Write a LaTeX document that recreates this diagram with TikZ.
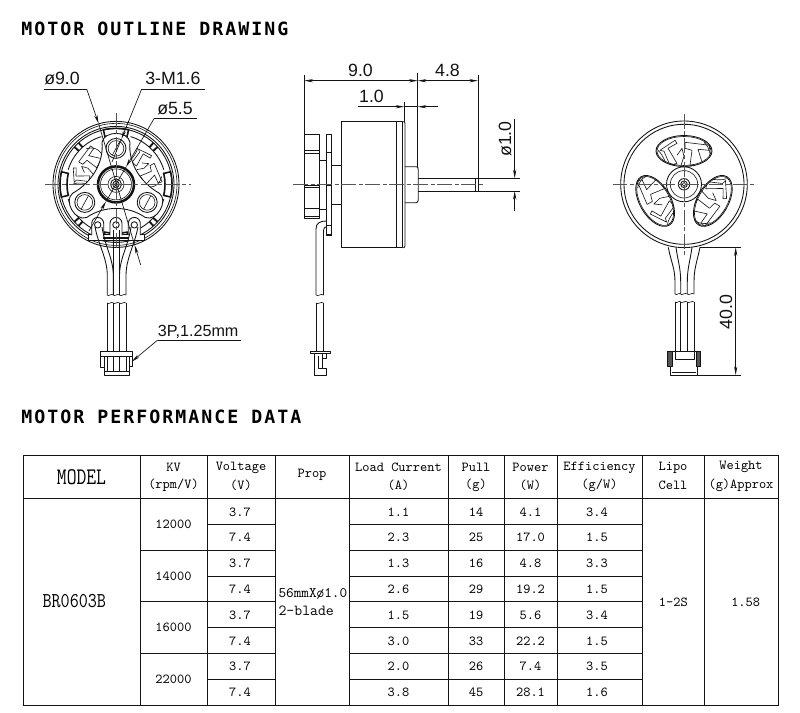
\documentclass[tikz,border=0pt]{standalone}
\usepackage{fontspec}
\usetikzlibrary{arrows.meta}
\newfontfamily\headfont[LetterSpace=11]{DejaVu Sans Mono}
\newfontfamily\dimfont{Liberation Sans}
\definecolor{ink}{HTML}{141414}
\definecolor{cen}{HTML}{555555}
\tikzset{
  ln/.style={draw=ink,line width=.65pt,line join=round},
  fine/.style={draw=ink,line width=.45pt,line join=round},
  heavy/.style={draw=ink,line width=1.9pt},
  centerline/.style={draw=cen,line width=.7pt,dash pattern=on 11pt off 2pt on 3pt off 2pt},
  dimline/.style={draw=ink,line width=.5pt},
  dimarrow/.style={dimline,-{Stealth[length=6.5pt,width=2.4pt]}},
  dimboth/.style={dimline,{Stealth[length=6.5pt,width=2.4pt]}-{Stealth[length=6.5pt,width=2.4pt]}},
  dimtext/.style={inner sep=0pt,text=ink,font=\dimfont\fontsize{13.3}{14}\selectfont},
  heading/.style={inner sep=0pt,anchor=base west,text=black,font=\headfont\bfseries\fontsize{13.7}{16}\selectfont},
  cell/.style={inner sep=0pt,text=black,font=\ttfamily\fontsize{10.3}{11}\selectfont},
  grid/.style={draw=ink,line width=.85pt},
  tooth/.pic={
    \path[fine] (1,-42)--(26,-39)--(25,-34)--(14,-35)--(19,-19)--(6,-19)--(8,-34)--(1,-36)--cycle;
    \path[fine] (-24,-34)--(-9,-44)--(-7,-41)--(-16,-36)--(-7,-21)--(-14,-19)--(-20,-33)--cycle;
    \path[fine] (-7,-29)--(-2,-36)--(0,-28)--(-3,-19);
    \path[fine] (-26,-34) .. controls (-20,-28) and (-20,-24) .. (-16,-17);
    \path[fine] (20,-42) .. controls (26,-36) and (28,-30) .. (24,-22);
  }
}
\begin{document}
\begin{tikzpicture}[x=.75pt,y=-.75pt]
\useasboundingbox (0,0) rectangle (800,713);
\fill[white] (0,0) rectangle (800,713);

\node[heading] (h1) at (21,35.5) {MOTOR OUTLINE DRAWING};
\node[heading] (h2) at (21,423.5) {MOTOR PERFORMANCE DATA};

% ---------- left view ----------
\begin{scope}[shift={(116,184.4)}]
  \path[ln] (0,0) circle[radius=63];
  \path[fine] (0,0) circle[radius=61];
  \path[ln] (0,0) circle[radius=58];
  \path[ln] (0,0) circle[radius=56];
  \foreach \a in {0,90,180,270} {
    \draw[ink,line width=1.2pt] (\a-13:56) arc[start angle=\a-13,end angle=\a+13,radius=56]
      -- (\a+13:49) arc[start angle=\a+13,end angle=\a-13,radius=49] -- cycle;
  }
  \foreach \a in {45,135,225,315} {
    \draw[ink,line width=1.4pt] (\a-3:50)--(\a-3:56);
    \draw[ink,line width=1.4pt] (\a+3:50)--(\a+3:56);
    \path[ln] (\a-28:50) arc[start angle=\a-28,end angle=\a+28,radius=50];
  }
  \foreach \a in {-60,60} {
    \begin{scope}[rotate=\a,yshift=7.5pt,scale=.8]
      \pic[transform shape] {tooth};
    \end{scope}
  }
  % lobed plate
  \path[ln,fill=white] (-14,-42) .. controls (-12,-54) and (12,-54) .. (14,-42)
    .. controls (12,-22) and (24,-2) .. (43.4,8.9)
    .. controls (52.8,16.6) and (40.8,37.4) .. (29.4,33.1)
    .. controls (12,21) and (-12,21) .. (-29.4,33.1)
    .. controls (-40.8,37.4) and (-52.8,16.6) .. (-43.4,8.9)
    .. controls (-24,-2) and (-12,-22) .. (-14,-42) -- cycle;
  % screws
  \foreach \x/\y in {0/-36,31.2/18,-31.2/18} {
    \path[ln] (\x,\y) circle[radius=10];
    \path[fine] (\x,\y) circle[radius=7.8];
    \path[fine] (\x-3.5,\y+6.5)--(\x+3.5,\y-6.5);
  }
  % hub
  \path[heavy] (0,0) circle[radius=18];
  \path[fine] (0,0) circle[radius=15.5];
  \path[fine] (0,0) circle[radius=8];
  \path[ln] (0,0) circle[radius=5.5];
  \path[ln] (0,0) circle[radius=3.2];
  \path[fine] (0,0) circle[radius=1.6];
  % bottom bands and solder pads
  \path[ln,fill=white] (-28,50.5)--(28,50.5)--(28,56)--(-28,56)--cycle;
  \draw[ink,line width=1.4pt] (-13,54)--(13,54);
  \foreach \x in {-18.3,0,18.3} {
    \path[ln,fill=white] (\x-6,51) -- (\x-6,39) arc[start angle=180,end angle=360,radius=6] -- (\x+6,51);
    \path[ln,fill=white] (\x,40.5) circle[radius=3.2];
  }
\end{scope}
% left view wires
\path[ln] (95,227) .. controls (99,247) and (107.3,258) .. (107.3,276) -- (107.3,295);
\path[ln] (102,227) .. controls (105,247) and (113.3,258) .. (113.3,276) -- (113.3,295);
\path[ln] (113.3,230)--(113.3,295);
\path[ln] (119.5,230)--(119.5,295);
\path[ln] (131,227) .. controls (128,247) and (119.5,258) .. (119.5,276) -- (119.5,295);
\path[ln] (138,227) .. controls (134,247) and (126,258) .. (126,276) -- (126,295);
\path[fine] (107.3,295) .. controls (109,297) and (111,293) .. (113.3,295)
  .. controls (115,297) and (117,293) .. (119.5,295) .. controls (121,297) and (124,293) .. (126,295);
\path[fine] (107.3,303) .. controls (109,305) and (111,301) .. (113.3,303)
  .. controls (115,305) and (117,301) .. (119.5,303) .. controls (121,305) and (124,301) .. (126,303);
\foreach \x in {107.3,113.3,119.5,126} \path[ln] (\x,303)--(\x,352);
% left connector
\path[ln,fill=white] (100.7,351.5)--(132,351.5)--(132,356)--(129.5,356)--(129.5,375)--(104.3,375)--(104.3,367)--(100.7,367)--cycle;
\path[ln] (100.7,356)--(132,356);
\path[ln] (104.3,356)--(104.3,367);
\path[ln] (129.5,356)--(132,356)--(132,366)--(129.5,366);
\foreach \x in {107.3,113.3,119.5,126} \path[ln] (\x,356)--(\x,371.5);
\path[ln] (104.3,371.5)--(129.5,371.5);
% left center lines
\coordinate (lcw) at (45,184.4); \coordinate (lce) at (191,184.4);
\coordinate (lcn) at (116,113); \coordinate (lcs) at (116,250);
\path[centerline] (lcw)--(lce);
\path[centerline] (lcn)--(lcs);
% left labels and leaders
\node[dimtext,anchor=base west] (d90) at (44,85) {ø9.0};
\node[dimtext,anchor=base west] (m16) at (145,85) {3-M1.6};
\node[dimtext,anchor=base west] (d55) at (157,115) {ø5.5};
\node[dimtext,anchor=base west,font=\dimfont\fontsize{12.1}{13}\selectfont] (p3) at (157.7,336) {3P,1.25mm};
\coordinate (u90a) at (44,89); \coordinate (u90b) at (86.7,89);
\coordinate (t90a) at (98.6,123.6); \coordinate (t90b) at (134.6,245);
\coordinate (t90c) at (140.7,265);
\coordinate (um1) at (205,89); \coordinate (um2) at (141.7,89);
\coordinate (tma) at (121.4,139); \coordinate (tmb) at (112,162);
\coordinate (u55a) at (197,118.7); \coordinate (u55b) at (154,118.7);
\coordinate (t55a) at (126,167); \coordinate (t55b) at (106,201.5); \coordinate (t55c) at (89,231);
\coordinate (up1) at (241,340); \coordinate (up2) at (157.7,340); \coordinate (tp) at (131.7,361.7);
\path[dimline] (u90a)--(u90b);
\path[dimarrow] (u90b)--(t90a);
\path[dimline] (t90a)--(t90b);
\path[dimarrow] (t90c)--(t90b);
\path[dimline] (um1)--(um2);
\path[dimarrow] (um2)--(tma);
\path[dimline] (tma)--(tmb);
\path[dimline] (u55a)--(u55b);
\path[dimarrow] (u55b)--(t55a);
\path[dimline] (t55a)--(t55b);
\path[dimarrow] (t55c)--(t55b);
\path[dimline] (up1)--(up2);
\path[dimarrow] (up2)--(tp);

% ---------- side view ----------
\path[ln] (304,134.3) rectangle (319.3,218.3);
\path[ln] (304,150)--(319.3,150) (304,153.3)--(319.3,153.3)
  (304,185.5)--(319.3,185.5) (304,187.5)--(319.3,187.5)
  (304,208.3)--(319.3,208.3) (304,216.5)--(319.3,216.5);
\path[ln] (319.3,160.7)--(326.7,160.7) (319.3,209.3)--(326.7,209.3);
\path[ln] (326.7,134.3) rectangle (331.7,235);
\path[ln] (326.7,152.3)--(331.7,152.3) (326.7,185.5)--(331.7,185.5) (326.7,225)--(331.7,225);
\draw[ink,line width=1pt] (326.7,152.3)--(331.7,152.3) (326.7,235)--(331.7,235);
\path[ln] (331.7,165)--(341.7,165) (331.7,204.3)--(341.7,204.3);
\path[ln] (341.7,121.7) rectangle (402.5,247.7);
\path[ln] (396.7,121.7)--(396.7,247.7);
\path[ln] (402.5,121.7)--(404,121.7)--(405,123)--(405,246)--(404,247.7)--(402.5,247.7);
\path[ln] (405,166.7)--(416,166.7) .. controls (418,167) .. (418.3,170) -- (418.3,199.5)
  .. controls (418,202) .. (416,202.7) -- (405,202.7);
\path[ln] (418.3,178.3)--(520,178.3) (418.3,191)--(520,191);
\path[ln] (475.7,178.3)--(475.7,191) (478,178.3)--(478,191);
% wire
\path[ln] (316,295)--(316,229) .. controls (316,223) and (320,221) .. (326.7,221);
\path[ln] (323.5,295)--(323.5,232) .. controls (323.5,228) and (325,226.5) .. (326.7,226.5);
\path[fine] (316,295) .. controls (318,297) and (321,293) .. (323.5,295);
\path[fine] (316,303) .. controls (318,305) and (321,301) .. (323.5,303);
\path[ln] (316,303)--(316,352) (323.5,303)--(323.5,352);
% side connector
\path[ln] (310.7,351.7) rectangle (330,353.7);
\path[ln] (314,353.7)--(314,375)--(326.7,375)--(326.7,368)--(322,368)--(322,353.7);
\path[ln] (326.7,353.7)--(326.7,358)--(322,358);
\path[ln] (318,356)--(318,368)--(322,368);
\coordinate (scw) at (293.3,184.7); \coordinate (sce) at (484,184.7);
\path[centerline] (scw)--(sce);
% side dimensions
\coordinate (e1t) at (304.3,75); \coordinate (e1b) at (304.3,134);
\coordinate (e2t) at (417.7,73); \coordinate (e2b) at (417.7,167);
\coordinate (e3t) at (478,75); \coordinate (e3b) at (478,178);
\coordinate (e4t) at (404.3,101.7); \coordinate (e4b) at (404.3,121.7);
\path[dimline] (e1t)--(e1b);
\path[dimline] (e2t)--(e2b);
\path[dimline] (e3t)--(e3b);
\path[dimline] (e4t)--(e4b);
\coordinate (a1) at (304.3,80.7); \coordinate (a2) at (417.7,80.7); \coordinate (a3) at (478,80.7);
\path[dimboth] (a1)--(a2);
\path[dimboth] (a2)--(a3);
\coordinate (b1) at (358.3,106.7); \coordinate (b2) at (404.3,106.7);
\coordinate (b3) at (437.7,106.7); \coordinate (b4) at (417.7,106.7);
\path[dimarrow] (b1)--(b2);
\path[dimarrow] (b3)--(b4);
\path[dimline] (b2)--(b4);
\coordinate (c1) at (514.7,119.3); \coordinate (c2) at (514.7,178.3);
\coordinate (c3) at (514.7,211); \coordinate (c4) at (514.7,191);
\path[dimarrow] (c1)--(c2);
\path[dimarrow] (c3)--(c4);
\node[dimtext,anchor=base] (l90) at (360.5,77) {9.0};
\node[dimtext,anchor=base] (l48) at (447.5,77) {4.8};
\node[dimtext,anchor=base] (l10) at (371.5,102.7) {1.0};
\node[dimtext,rotate=90,anchor=base] (ld1) at (511,139) {ø1.0};

% ---------- right view ----------
\begin{scope}[shift={(684,184.3)}]
  \path[ln] (0,0) circle[radius=63.3];
  \path[ln] (0,0) circle[radius=60];
  \foreach \r in {0,120,240} {
    \begin{scope}[rotate=\r]
      \path[ln] (0,-33.3) ellipse[x radius=28,y radius=15.5];
      \begin{scope}
        \clip (0,-33.3) ellipse[x radius=28,y radius=15.5];
        \pic[transform shape] {tooth};
      \end{scope}
      \path[fine] (0,-33.3) ellipse[x radius=27,y radius=14.5];
    \end{scope}
  }
  \path[ln] (0,0) circle[radius=17.5];
  \path[fine] (0,0) circle[radius=13.7];
  \path[ln] (0,0) circle[radius=5.7];
  \path[ln] (0,0) circle[radius=3.3];
  \path[fine] (0,0) circle[radius=1.8];
\end{scope}
\path[ln] (668.3,247.3) .. controls (671,262) and (675,268) .. (675,282) -- (675,294);
\path[ln] (676,247.3) .. controls (678,262) and (680.7,268) .. (680.7,282) -- (680.7,294);
\path[ln] (692,247.3) .. controls (690,262) and (687.3,268) .. (687.3,282) -- (687.3,294);
\path[ln] (700,247.3) .. controls (697,262) and (694,268) .. (694,282) -- (694,294);
\path[fine] (675,294) .. controls (677,296) and (679,292) .. (680.7,294)
  .. controls (682,296) and (685,292) .. (687.3,294) .. controls (689,296) and (692,292) .. (694,294);
\path[fine] (675,302) .. controls (677,304) and (679,300) .. (680.7,302)
  .. controls (682,304) and (685,300) .. (687.3,302) .. controls (689,304) and (692,300) .. (694,302);
\foreach \x in {675,680.7,687.3,694} \path[ln] (\x,302)--(\x,351);
\path[ln] (670.7,351)--(697.3,351)--(697.3,375)--(670.7,375)--cycle;
\path[ln,fill=cen] (667.7,351) rectangle (672,366.7);
\path[ln,fill=cen] (696,351) rectangle (700.7,366.7);
\path[ln] (675,351)--(675,359)--(694,359)--(694,351);
\path[ln] (672,372)--(696,372);
\coordinate (rcw) at (612.7,184.3); \coordinate (rce) at (756.7,184.3);
\coordinate (rcn) at (684,114); \coordinate (rcs) at (684,256.7);
\path[centerline] (rcw)--(rce);
\path[centerline] (rcn)--(rcs);
\coordinate (f1) at (700,247.3); \coordinate (f2) at (740.7,247.3);
\coordinate (f3) at (697.3,375); \coordinate (f4) at (740.7,375);
\coordinate (f5) at (735.7,247.3); \coordinate (f6) at (735.7,375);
\path[dimline] (f1)--(f2);
\path[dimline] (f3)--(f4);
\path[dimboth] (f5)--(f6);
\node[dimtext,rotate=90,anchor=base] (l400) at (732,312) {40.0};

% ---------- table ----------
\path[grid] (23.5,455.5) rectangle (778.5,705.5);
\path[grid] (23.5,498.5)--(778.5,498.5);
\foreach \x in {140.5,207.5,275.5,349.5,448.5,504.5,557.5,642.5,704.5}
  \path[grid] (\x,455.5)--(\x,705.5);
\foreach \y in {524.5,550.5,576.5,601.5,627.5,653.5,679.5} {
  \path[grid] (207.5,\y)--(275.5,\y);
  \path[grid] (349.5,\y)--(642.5,\y);
}
\foreach \y in {550.5,601.5,653.5} \path[grid] (140.5,\y)--(207.5,\y);

\node[cell,font=\ttfamily\fontsize{14.3}{15}\selectfont] (tmo) at (81.5,477) {\scalebox{1}[1.25]{MODEL}};
\node[cell] (tkv1) at (173.5,467) {KV};
\node[cell] (tkv2) at (173.5,485.7) {(rpm/V)};
\node[cell] (tv1) at (241,467.5) {Voltage};
\node[cell] (tv2) at (241,485.7) {(V)};
\node[cell] (tpr) at (312,475) {Prop};
\node[cell] (tl1) at (398.5,467.5) {Load Current};
\node[cell] (tl2) at (398.5,485.7) {(A)};
\node[cell] (tp1) at (476,467.5) {Pull};
\node[cell] (tp2) at (476,485.7) {(g)};
\node[cell] (tw1) at (530.5,467.5) {Power};
\node[cell] (tw2) at (530.5,485.7) {(W)};
\node[cell] (te1) at (599.5,467.5) {Efficiency};
\node[cell] (te2) at (599.5,485.7) {(g/W)};
\node[cell] (tc1) at (673,468) {Lipo};
\node[cell] (tc2) at (673,485.7) {Cell};
\node[cell] (tg1) at (741,466.7) {Weight};
\node[cell] (tg2) at (741,485.7) {(g)Approx};

\node[cell,font=\ttfamily\fontsize{13.2}{14}\selectfont] (tmodel) at (74.3,601) {\scalebox{1}[1.2]{BR0603B}};
\node[cell] (k1) at (173.5,524.3) {12000};
\node[cell] (k2) at (173.5,576) {14000};
\node[cell] (k3) at (173.5,627.7) {16000};
\node[cell] (k4) at (173.5,679.3) {22000};
\node[cell,anchor=base west,font=\ttfamily\fontsize{10.9}{12}\selectfont] (pr1) at (278.3,597.5) {56mmXø1.0};
\node[cell,anchor=base west,font=\ttfamily\fontsize{11.5}{12}\selectfont] (pr2) at (278.3,615.5) {2-blade};
\node[cell] (lc) at (673.3,602.7) {1-2S};
\node[cell] (wg) at (745.7,602.7) {1.58};

\foreach \v/\l/\p/\w/\e [count=\i, evaluate=\i as \yy using 511.8+(\i-1)*25.8] in
  {3.7/1.1/14/4.1/3.4,7.4/2.3/25/17.0/1.5,3.7/1.3/16/4.8/3.3,7.4/2.6/29/19.2/1.5,
   3.7/1.5/19/5.6/3.4,7.4/3.0/33/22.2/1.5,3.7/2.0/26/7.4/3.5,7.4/3.8/45/28.1/1.6} {
  \node[cell] (rv\i) at (240,\yy) {\v};
  \node[cell] (rl\i) at (398.5,\yy) {\l};
  \node[cell] (rp\i) at (476,\yy) {\p};
  \node[cell] (rw\i) at (530.5,\yy) {\w};
  \node[cell] (re\i) at (597,\yy) {\e};
}
\end{tikzpicture}
\end{document}
